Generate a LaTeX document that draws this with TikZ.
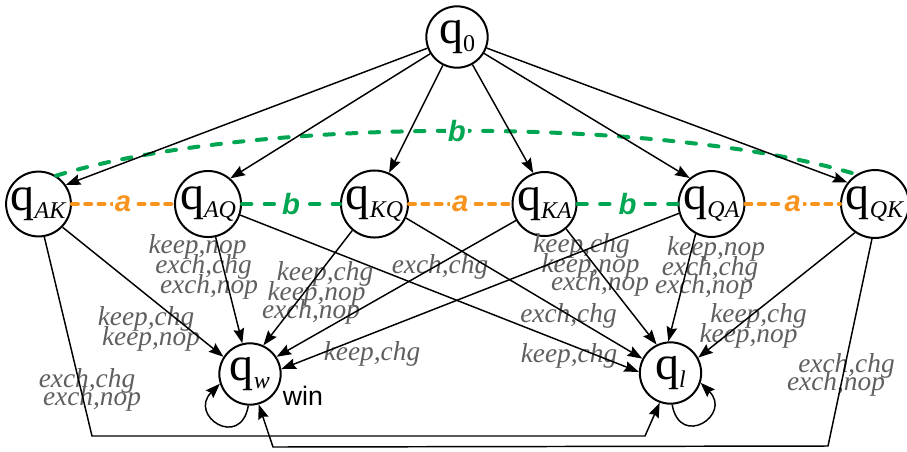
\documentclass[tikz,border=0pt]{standalone}
\usepackage{fontspec}
\setmainfont{Liberation Serif}
\newfontfamily\sansf{Liberation Sans}
\usetikzlibrary{arrows.meta}
\definecolor{lgray}{RGB}{95,95,95}
\definecolor{aorange}{RGB}{247,148,30}
\definecolor{bgreen}{RGB}{0,166,81}
\newcommand\stq[1]{q\raisebox{-6pt}{\fontsize{18}{18}\selectfont #1}}
\begin{document}
\begin{tikzpicture}[x=0.75pt,y=0.75pt,
  st/.style={circle, draw, line width=1.5pt, minimum size=46pt, inner sep=0pt, font=\fontsize{36}{36}\selectfont},
  arr/.style={line width=1.1pt, -{Stealth[length=11pt,width=8pt,inset=1.5pt]}},
  lbl/.style={anchor=base, inner sep=0pt, text=lgray, font=\fontsize{20.5}{20.5}\selectfont\itshape},
  odash/.style={draw=aorange, line width=3pt, line cap=round, dash pattern=on 4.5pt off 5.5pt},
  gdash/.style={draw=bgreen, line width=3pt, line cap=round, dash pattern=on 7pt off 10pt},
  alab/.style={fill=white, inner sep=1.5pt, text=aorange, font=\sansf\bfseries\itshape\fontsize{22}{22}\selectfont},
  blab/.style={fill=white, inner sep=1.5pt, text=bgreen, font=\sansf\bfseries\itshape\fontsize{22}{22}\selectfont}]
\useasboundingbox (0,0) rectangle (907,-451);

% states
\node[st] (q0)  at (457,-37)  {\stq{0}};
\node[st] (qAK) at (38.5,-204) {\stq{\textit{AK}}};
\node[st] (qAQ) at (208,-204)  {\stq{\textit{AQ}}};
\node[st] (qKQ) at (374.5,-204) {\stq{\textit{KQ}}};
\node[st] (qKA) at (544.5,-204) {\stq{\textit{KA}}};
\node[st] (qQA) at (711.5,-204) {\stq{\textit{QA}}};
\node[st] (qQK) at (875,-204)  {\stq{\textit{QK}}};
\node[st] (qw)  at (250,-374)  {\stq{\textit{w}}};
\node[st] (ql)  at (670.5,-373) {\stq{\textit{l}}};
\node[anchor=base, inner sep=0pt, font=\sansf\fontsize{20}{20}\selectfont] (win) at (303,-405) {win};

% labels
\node[lbl] (l1)  at (146,-325) {keep,chg};
\node[lbl] (l2)  at (151,-345) {keep,nop};
\node[lbl] (l3)  at (87,-387)  {exch,chg};
\node[lbl] (l4)  at (92,-405)  {exch,nop};
\node[lbl] (l5)  at (197.5,-253) {keep,nop};
\node[lbl] (l6)  at (203.5,-273) {exch,chg};
\node[lbl] (l7)  at (209,-293) {exch,nop};
\node[lbl] (l8)  at (325,-280) {keep,chg};
\node[lbl] (l9)  at (316.5,-300) {keep,nop};
\node[lbl] (l10) at (311,-318) {exch,nop};
\node[lbl] (l11) at (440,-273) {exch,chg};
\node[lbl] (l12) at (372,-360) {keep,chg};
\node[lbl] (l13) at (581.5,-252) {keep,chg};
\node[lbl] (l14) at (590.5,-272) {keep,nop};
\node[lbl] (l15) at (600,-290) {exch,nop};
\node[lbl] (l16) at (568.5,-322) {exch,chg};
\node[lbl] (l17) at (569,-362) {keep,chg};
\node[lbl] (l18) at (716,-255) {keep,nop};
\node[lbl] (l19) at (710,-275) {exch,chg};
\node[lbl] (l20) at (704,-293) {exch,nop};
\node[lbl] (l21) at (758.5,-322) {keep,chg};
\node[lbl] (l22) at (748.5,-342) {keep,nop};
\node[lbl] (l23) at (846.5,-372) {exch,chg};
\node[lbl] (l24) at (836,-390) {exch,nop};

% dashed relations
\draw[odash] (qAK) -- node[alab] (a1) {a} (qAQ);
\draw[gdash] (qAQ) -- node[blab] (b1) {b} (qKQ);
\draw[odash] (qKQ) -- node[alab] (a2) {a} (qKA);
\draw[gdash] (qKA) -- node[blab] (b2) {b} (qQA);
\draw[odash] (qQA) -- node[alab] (a3) {a} (qQK);
\draw[gdash] (qAK.58) .. controls (250,-116) and (664,-116) .. node[blab, pos=0.5] (b3) {b} (qQK.122);

% from q0
\draw[arr] (q0) -- (qAK.35);
\draw[arr] (q0) -- (qAQ.49);
\draw[arr] (q0) -- (qKQ.65);
\draw[arr] (q0) -- (qKA.110);
\draw[arr] (q0) -- (qQA.130);
\draw[arr] (q0) -- (qQK.142);

% into qw
\draw[arr] (qAK.-44) -- (qw.147);
\draw[arr] (qAQ.-77) -- (qw.104);
\draw[arr] (qKQ.-130) -- (qw.65);
\draw[arr] (qKA.-150) -- (qw.33);
\draw[arr] (qQA.-164) -- (qw.9);
\coordinate (c3) at (828,-446);
\coordinate (c4) at (273,-447);
\draw[arr] (qQK.-95) -- (c3) -- (c4) -- (qw.-74);

% into ql
\draw[arr] (qAQ.-19) -- (ql.178);
\draw[arr] (qKQ.-24) -- (ql.153);
\draw[arr] (qKA.-49) -- (ql.116);
\draw[arr] (qQA.-118) -- (ql.94);
\draw[arr] (qQK.-125) -- (ql.29);
\coordinate (c1) at (92,-436);
\coordinate (c2) at (645,-436);
\draw[arr] (qAK.-80) -- (c1) -- (c2) -- (ql.-110);

% self loops
\draw[arr] (qw.-93) .. controls +(-100:45) and +(225:45) .. (qw.-162);
\draw[arr] (ql.-87) .. controls +(-80:45) and +(-45:45) .. (ql.-18);
\end{tikzpicture}
\end{document}
